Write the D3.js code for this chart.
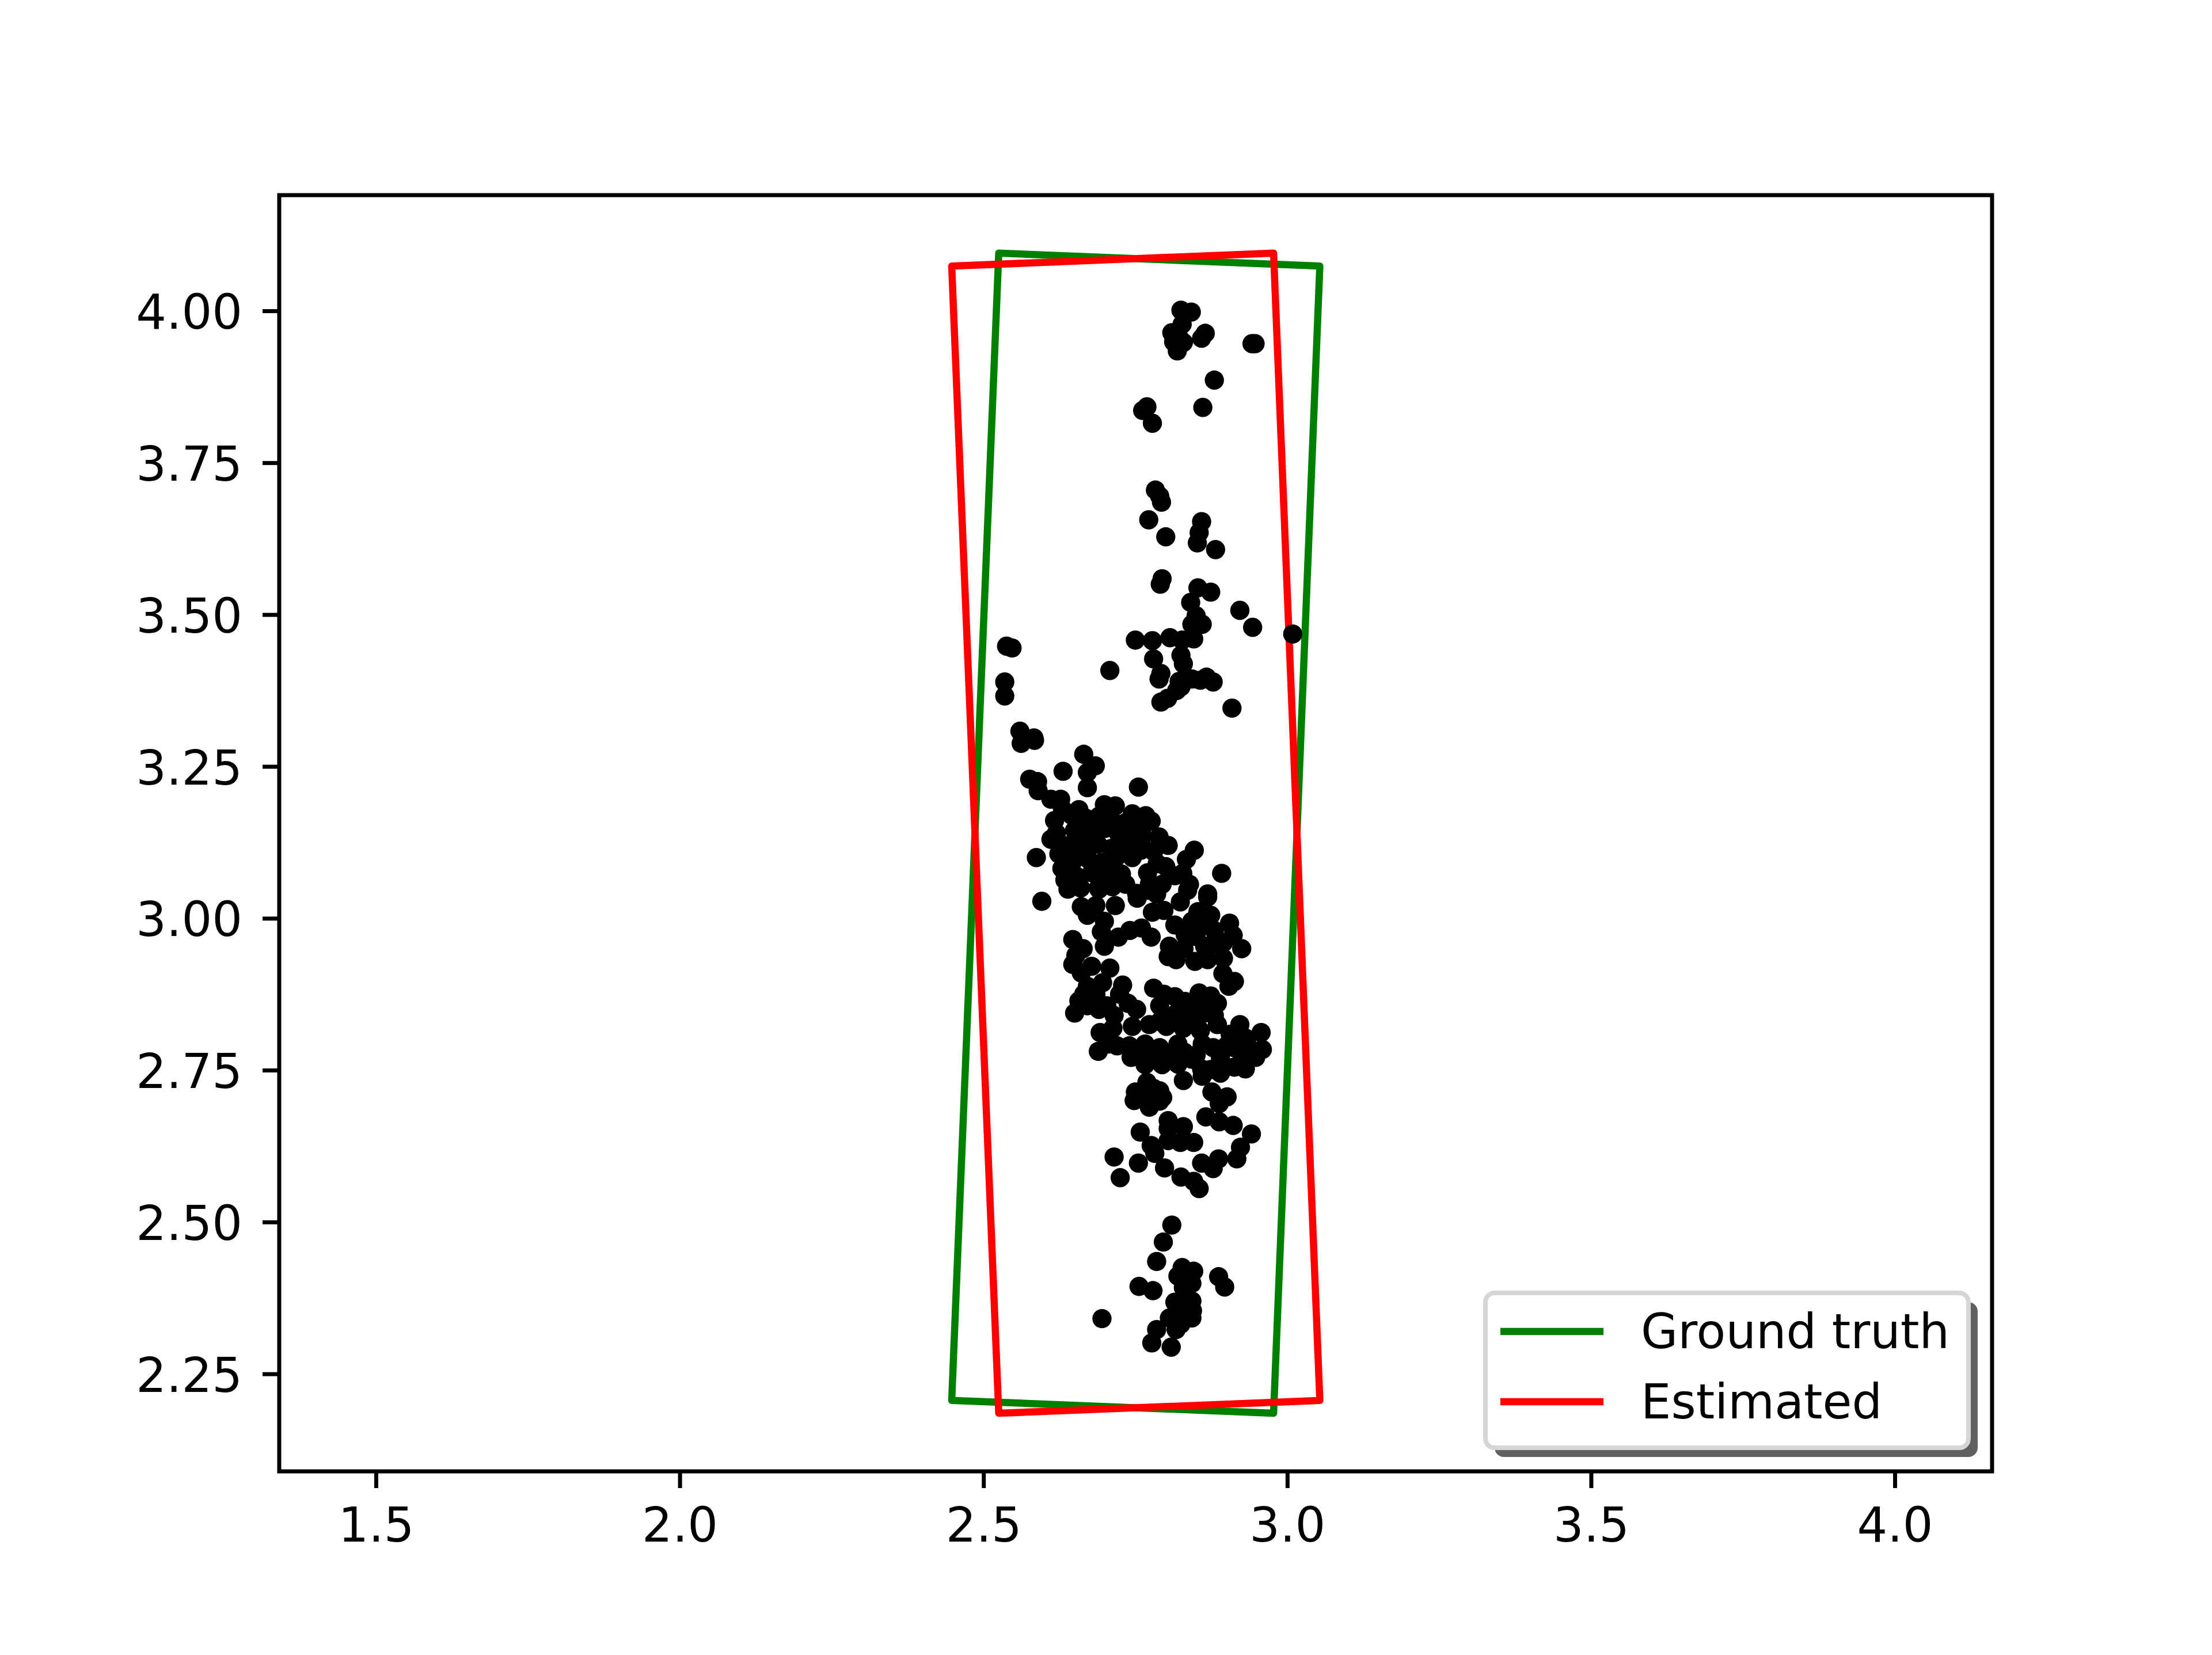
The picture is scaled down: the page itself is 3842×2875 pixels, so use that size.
<!DOCTYPE html>
<html><head><meta charset="utf-8">
<script src="https://cdn.jsdelivr.net/npm/d3@7"></script>
<style>body{margin:0;background:#fff} svg{display:block} text{font-family:"DejaVu Sans",sans-serif}</style>
</head><body><svg id="chart" width="3842" height="2875"></svg>
<script>
const xTicks = [1.5, 2.0, 2.5, 3.0, 3.5, 4.0];
const yTicks = [2.25, 2.50, 2.75, 3.00, 3.25, 3.50, 3.75, 4.00];
const xDomain = [1.3408, 4.1601];
const yDomain = [2.0895, 4.1905];
const groundTruth = [[2.4477,2.2063],[2.5251,4.0951],[3.0536,4.0737],[2.9775,2.1852],[2.4477,2.2063]];
const estimated = [[2.4477,4.0737],[2.9775,4.0951],[3.0536,2.2063],[2.5251,2.1852],[2.4477,4.0737]];
const seriesNames = ["Ground truth", "Estimated"];
const seriesColors = ["#008000", "#ff0000"];
const points = [
// top group
[2.825,4.001],[2.842,3.998],[2.827,3.978],[2.810,3.964],[2.822,3.956],[2.829,3.948],[2.813,3.949],[2.819,3.934],
[2.865,3.963],[2.859,3.955],[2.942,3.946],[2.947,3.946],[2.880,3.886],[2.769,3.842],[2.762,3.836],[2.778,3.815],[2.861,3.841],
[2.783,3.705],[2.790,3.695],[2.793,3.685],[2.772,3.656],[2.800,3.628],[2.859,3.653],[2.855,3.635],[2.852,3.618],[2.882,3.607],
[2.794,3.559],[2.791,3.550],[2.853,3.544],[2.874,3.537],
[2.841,3.520],[2.922,3.507],[2.943,3.479],[2.850,3.498],[2.860,3.484],[2.843,3.484],[2.846,3.460],[3.009,3.468],[2.750,3.458],
[2.778,3.457],[2.807,3.462],[2.827,3.458],[2.825,3.433],[2.780,3.427],[2.829,3.419],[2.792,3.403],[2.789,3.394],[2.822,3.390],
[2.857,3.392],[2.878,3.389],[2.867,3.397],[2.818,3.375],[2.803,3.362],[2.792,3.356],[2.708,3.408],[2.909,3.346],[2.825,3.381],[2.843,3.394],
[2.538,3.448],[2.547,3.445],[2.535,3.389],[2.535,3.366],[2.560,3.308],[2.583,3.297],
// upper dense cluster
[2.562,3.288],[2.584,3.293],[2.665,3.270],[2.684,3.251],[2.631,3.242],[2.671,3.240],[2.576,3.229],[2.589,3.225],[2.590,3.210],
[2.671,3.215],[2.755,3.216],[2.611,3.196],[2.627,3.196],[2.617,3.161],[2.611,3.130],[2.587,3.100],[2.624,3.106],[2.629,3.082],
[2.634,3.063],[2.847,3.112],[2.834,3.097],[2.786,3.090],[2.789,3.134],[2.804,3.120],[2.745,3.172],[2.767,3.169],[2.776,3.160],
[2.892,3.074],[2.828,3.074],[2.839,3.056],[2.773,3.056],[2.794,3.056],[2.869,3.040],[2.752,3.041],[2.657,3.179],[2.699,3.187],
[2.717,3.185],[2.745,3.100],[2.759,3.112],[2.727,3.073],[2.734,3.056],
[2.645,3.170],[2.668,3.165],[2.690,3.168],[2.712,3.160],[2.735,3.158],[2.650,3.145],[2.675,3.142],[2.700,3.148],[2.722,3.140],
[2.748,3.138],[2.640,3.120],[2.662,3.118],[2.688,3.122],[2.710,3.115],[2.735,3.120],[2.760,3.130],[2.648,3.095],[2.672,3.098],
[2.695,3.092],[2.718,3.100],[2.652,3.070],[2.678,3.075],[2.700,3.068],[2.712,3.085],[2.660,3.050],[2.690,3.048],[2.712,3.052],
[2.630,3.180],[2.620,3.140],[2.632,3.110],[2.780,3.110],[2.760,3.145],[2.800,3.085],[2.815,3.070],[2.770,3.075],[2.785,3.040],
// middle cluster
[2.596,3.028],[2.753,3.033],[2.778,3.010],[2.797,3.013],[2.824,3.027],[2.869,3.035],[2.853,3.011],[2.874,3.005],[2.661,3.019],
[2.685,3.021],[2.717,3.021],[2.671,3.005],[2.699,2.995],[2.694,2.978],[2.722,2.969],[2.741,2.980],[2.760,2.984],[2.776,2.969],
[2.699,2.954],[2.815,2.989],[2.832,2.973],[2.843,2.995],[2.864,2.989],[2.905,2.992],[2.911,2.972],[2.925,2.950],[2.878,2.958],
[2.864,2.954],[2.806,2.954],[2.804,2.937],[2.817,2.932],[2.848,2.929],[2.869,2.932],[2.895,2.934],[2.894,2.909],[2.913,2.896],
[2.904,2.888],[2.647,2.965],[2.664,2.950],[2.652,2.939],[2.647,2.924],[2.661,2.910],[2.678,2.921],[2.708,2.918],[2.671,2.888],
[2.696,2.894],[2.729,2.890],[2.657,2.864],[2.650,2.844],[2.671,2.856],[2.703,2.856],[2.738,2.860],[2.752,2.850],[2.724,2.875],
[2.780,2.885],[2.797,2.875],[2.815,2.871],[2.832,2.863],[2.790,2.856],[2.855,2.877],[2.874,2.872],[2.885,2.860],[2.818,2.844],
[2.843,2.847],[2.864,2.844],[2.885,2.825],[2.922,2.825],[2.957,2.812],[2.692,2.812],[2.713,2.819],[2.745,2.822],[2.773,2.825],
[2.801,2.822],[2.829,2.819],[2.857,2.815],[2.906,2.809],[2.931,2.803],[2.639,3.048],[2.689,3.050],[2.773,3.046],[2.836,3.046],
[2.850,2.970],[2.880,2.980],[2.830,2.950],[2.895,2.960],[2.685,2.875],[2.690,2.850],[2.715,2.840],[2.665,2.875],
[2.830,2.840],[2.850,2.830],[2.870,2.850],[2.810,2.835],[2.790,2.830],[2.840,2.860],[2.860,2.870],[2.880,2.840],
// lower cluster
[2.689,2.781],[2.743,2.771],[2.706,2.793],[2.766,2.793],[2.766,2.759],[2.794,2.759],[2.808,2.774],[2.820,2.793],[2.829,2.733],
[2.843,2.768],[2.859,2.752],[2.874,2.751],[2.913,2.755],[2.931,2.752],[2.948,2.771],[2.959,2.784],[2.878,2.787],[2.913,2.787],
[2.860,2.793],[2.790,2.787],[2.769,2.730],[2.750,2.714],[2.748,2.700],[2.790,2.716],[2.773,2.689],[2.790,2.699],[2.804,2.667],
[2.829,2.657],[2.804,2.654],[2.758,2.648],[2.776,2.626],[2.782,2.613],[2.804,2.634],[2.824,2.631],[2.846,2.631],[2.876,2.714],
[2.901,2.706],[2.888,2.695],[2.866,2.673],[2.888,2.665],[2.911,2.659],[2.941,2.645],[2.923,2.623],[2.917,2.604],[2.887,2.604],
[2.878,2.588],[2.859,2.597],[2.715,2.607],[2.755,2.597],[2.798,2.589],[2.725,2.573],[2.825,2.574],[2.846,2.567],[2.855,2.555],
[2.720,2.790],[2.800,2.770],[2.830,2.780],[2.850,2.775],[2.890,2.770],[2.900,2.790],[2.935,2.790],[2.820,2.760],[2.780,2.775],
[2.760,2.780],[2.740,2.790],[2.890,2.745],[2.860,2.740],[2.925,2.765],[2.775,2.710],[2.780,2.720],[2.795,2.705],
// bottom group
[2.810,2.495],[2.796,2.467],[2.785,2.435],[2.827,2.425],[2.846,2.419],[2.820,2.411],[2.843,2.399],[2.829,2.392],[2.887,2.410],
[2.897,2.393],[2.756,2.394],[2.779,2.387],[2.815,2.368],[2.843,2.370],[2.843,2.342],[2.806,2.342],[2.825,2.332],[2.817,2.323],
[2.785,2.323],[2.777,2.301],[2.809,2.294],[2.695,2.341],[2.844,2.354],[2.830,2.375],[2.835,2.410],[2.820,2.350]
];

(function () {
const W = 3842, H = 2875;
const axL = 485, axR = 3460, axT = 339, axB = 2556;
const FS = 83;
const svg = d3.select("#chart");
svg.append("rect").attr("width", W).attr("height", H).attr("fill", "#fff");

const x = d3.scaleLinear().domain(xDomain).range([axL, axR]);
const y = d3.scaleLinear().domain(yDomain).range([axB, axT]);

svg.append("clipPath").attr("id", "clip").append("rect")
  .attr("x", axL).attr("y", axT).attr("width", axR - axL).attr("height", axB - axT);

const plot = svg.append("g").attr("clip-path", "url(#clip)");
const line = d3.line().x(d => x(d[0])).y(d => y(d[1]));
[groundTruth, estimated].forEach((poly, i) => {
  plot.append("path").attr("d", line(poly)).attr("fill", "none")
    .attr("stroke", seriesColors[i]).attr("stroke-width", 12.5)
    .attr("stroke-linejoin", "round").attr("stroke-linecap", "round");
});
plot.selectAll("circle").data(points).join("circle")
  .attr("cx", d => x(d[0])).attr("cy", d => y(d[1])).attr("r", 16.7).attr("fill", "#000");

const xAxis = d3.axisBottom(x).tickValues(xTicks).tickFormat(d3.format(".1f"))
  .tickSize(29).tickSizeOuter(0).tickPadding(34);
const yAxis = d3.axisLeft(y).tickValues(yTicks).tickFormat(d3.format(".2f"))
  .tickSize(29).tickSizeOuter(0).tickPadding(35);
const gx = svg.append("g").attr("transform", `translate(0,${axB})`).call(xAxis);
const gy = svg.append("g").attr("transform", `translate(${axL},0)`).call(yAxis);
[gx, gy].forEach(g => {
  g.select(".domain").remove();
  g.selectAll(".tick line").attr("stroke", "#000").attr("stroke-width", 7);
  g.selectAll(".tick text").attr("font-size", FS).attr("fill", "#000")
    .attr("font-family", "DejaVu Sans, sans-serif");
});
gy.selectAll(".tick text").attr("dy", "0.37em");

svg.append("rect").attr("x", axL).attr("y", axT).attr("width", axR - axL).attr("height", axB - axT)
  .attr("fill", "none").attr("stroke", "#000").attr("stroke-width", 7);

const lg = svg.append("g");
const lx = 2580, ly = 2246, lw = 839, lh = 269;
lg.append("rect").attr("x", lx + 16).attr("y", ly + 16).attr("width", lw).attr("height", lh)
  .attr("rx", 16).attr("fill", "#606060");
lg.append("rect").attr("x", lx).attr("y", ly).attr("width", lw).attr("height", lh)
  .attr("rx", 16).attr("fill", "#fff").attr("stroke", "#d6d6d6").attr("stroke-width", 8);
const rows = [2313, 2435];
seriesNames.forEach((name, i) => {
  lg.append("line").attr("x1", 2606).attr("x2", 2785).attr("y1", rows[i]).attr("y2", rows[i])
    .attr("stroke", seriesColors[i]).attr("stroke-width", 12.5);
  lg.append("text").attr("x", 2850).attr("y", rows[i] + 29).attr("font-size", FS).attr("fill", "#000")
    .attr("font-family", "DejaVu Sans, sans-serif").text(name);
});
})();
</script></body></html>
